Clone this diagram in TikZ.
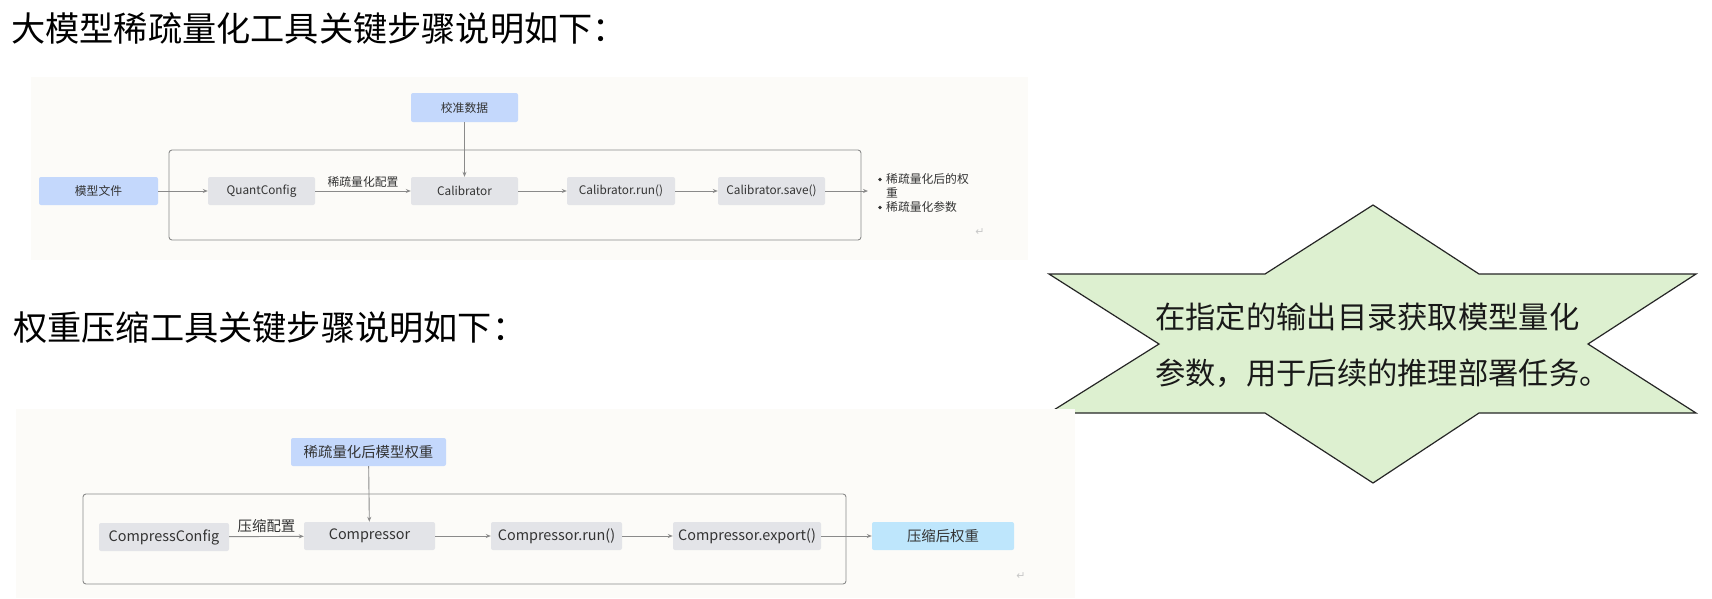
\documentclass[tikz,border=0pt]{standalone}
\usepackage{fontspec}
\setmainfont{Noto Sans CJK SC}
\newfontfamily\dejavu{DejaVu Sans}
\usetikzlibrary{arrows.meta}
\definecolor{bgcream}{HTML}{FCFBF8}
\definecolor{boxblue}{HTML}{C4D8FC}
\definecolor{boxgray}{HTML}{E3E4E8}
\definecolor{boxcyan}{HTML}{BEE6FC}
\definecolor{linegray}{HTML}{8A8A8A}
\definecolor{txtdark}{HTML}{333333}
\definecolor{stargreen}{HTML}{DDF0D0}
\definecolor{retgray}{HTML}{C8C8C8}
\tikzset{
  fA/.style={font=\fontsize{11.8}{13}\selectfont},
  fB/.style={font=\fontsize{14.4}{16}\selectfont},
  boxbase/.style={rounded corners=2pt, inner sep=0pt, text=txtdark, anchor=center},
  bluebox/.style={boxbase, fill=boxblue},
  graybox/.style={boxbase, fill=boxgray},
  cyanbox/.style={boxbase, fill=boxcyan},
  frame/.style={draw=linegray, line width=0.9pt, rounded corners=3pt},
  arr/.style={draw=linegray, line width=0.9pt, -{Stealth[length=5pt,width=4pt]}},
  lbl/.style={text=txtdark, inner sep=0pt},
  bulletdot/.style={circle, fill=txtdark, inner sep=0pt, minimum size=3.6pt},
  title/.style={anchor=west, inner sep=0pt, text=black},
  rets/.style={text=retgray, inner sep=0pt, font=\dejavu\fontsize{11}{12}\selectfont}
}
\begin{document}
\begin{tikzpicture}[x=1pt,y=-1pt]
\useasboundingbox (0,0) rectangle (1712,598);
\fill[white] (0,0) rectangle (1712,598);

% titles
\node[title, font=\fontsize{34.2}{40}\selectfont] (t1) at (11,29) {大模型稀疏量化工具关键步骤说明如下：};
\node[title, font=\fontsize{34.2}{38}\selectfont] (t2) at (13,328) {权重压缩工具关键步骤说明如下：};

% star callout
\draw[fill=stargreen, draw=black!85, line width=1.2pt, line join=miter]
  (1373,205) -- (1479,274) -- (1696,274) -- (1588,344) -- (1696,413) -- (1479,413)
  -- (1373,483) -- (1265,413) -- (1049,413) -- (1159,344) -- (1049,274) -- (1265,274) -- cycle;
\node[title, font=\fontsize{30.3}{34}\selectfont, text=black!90] (s1) at (1155,317) {在指定的输出目录获取模型量化};
\node[title, font=\fontsize{30.3}{34}\selectfont, text=black!90] (s2) at (1155,373) {参数，用于后续的推理部署任务。};

% ---------- diagram 1 ----------
\fill[bgcream] (31,77) rectangle (1028,260);
\draw[frame] (169,150) rectangle (861,240);
\node[bluebox, fA, minimum width=107pt, minimum height=29pt] (cal) at (464.5,107.5) {校准数据};
\node[bluebox, fA, minimum width=119pt, minimum height=28pt] (mf) at (98.5,191) {模型文件};
\node[graybox, fA, minimum width=107pt, minimum height=28pt] (qc) at (261.5,191) {QuantConfig};
\node[graybox, fA, minimum width=107pt, minimum height=28pt] (cb) at (464.5,191) {Calibrator};
\node[graybox, fA, minimum width=108pt, minimum height=28pt] (cr) at (621,191) {Calibrator.run()};
\node[graybox, fA, minimum width=107pt, minimum height=28pt] (cs) at (771.5,191) {Calibrator.save()};
\coordinate (o1) at (868,191);
\draw[arr] (mf) -- (qc);
\draw[arr] (qc) -- node[lbl, fA, above=3pt] (l1) {稀疏量化配置} (cb);
\draw[arr] (cal) -- (cb);
\draw[arr] (cb) -- (cr);
\draw[arr] (cr) -- (cs);
\draw[arr] (cs) -- (o1);
\node[bulletdot] (b1) at (880,179.5) {};
\node[lbl, fA, anchor=west] (b1t) at (886,179) {稀疏量化后的权};
\node[lbl, fA, anchor=west] (b1u) at (886,192.5) {重};
\node[bulletdot] (b2) at (880,207.5) {};
\node[lbl, fA, anchor=west] (b2t) at (886,207) {稀疏量化参数};
\node[rets] (r1) at (980,232) {↵};

% ---------- diagram 2 ----------
\fill[bgcream] (16,409) rectangle (1075,598);
\draw[frame] (83,494) rectangle (846,584);
\node[bluebox, fB, minimum width=155pt, minimum height=28pt] (sw) at (368.5,452) {稀疏量化后模型权重};
\node[graybox, fB, minimum width=130pt, minimum height=28pt] (ccf) at (164,537) {CompressConfig};
\node[graybox, fB, minimum width=131pt, minimum height=28pt] (cp) at (369.5,536) {Compressor};
\node[graybox, fB, minimum width=131pt, minimum height=28pt] (cpr) at (556.5,536) {Compressor.run()};
\node[graybox, fB, minimum width=148pt, minimum height=28pt] (cpe) at (747,536) {Compressor.export()};
\node[cyanbox, fB, minimum width=142pt, minimum height=28pt] (cw) at (943,536) {压缩后权重};
\draw[arr] (ccf) -- node[lbl, fB, above=3pt] (l2) {压缩配置} (cp);
\draw[arr] (sw) -- (cp);
\draw[arr] (cp) -- (cpr);
\draw[arr] (cpr) -- (cpe);
\draw[arr] (cpe) -- (cw);
\node[rets] (r2) at (1021,576) {↵};
\end{tikzpicture}
\end{document}
